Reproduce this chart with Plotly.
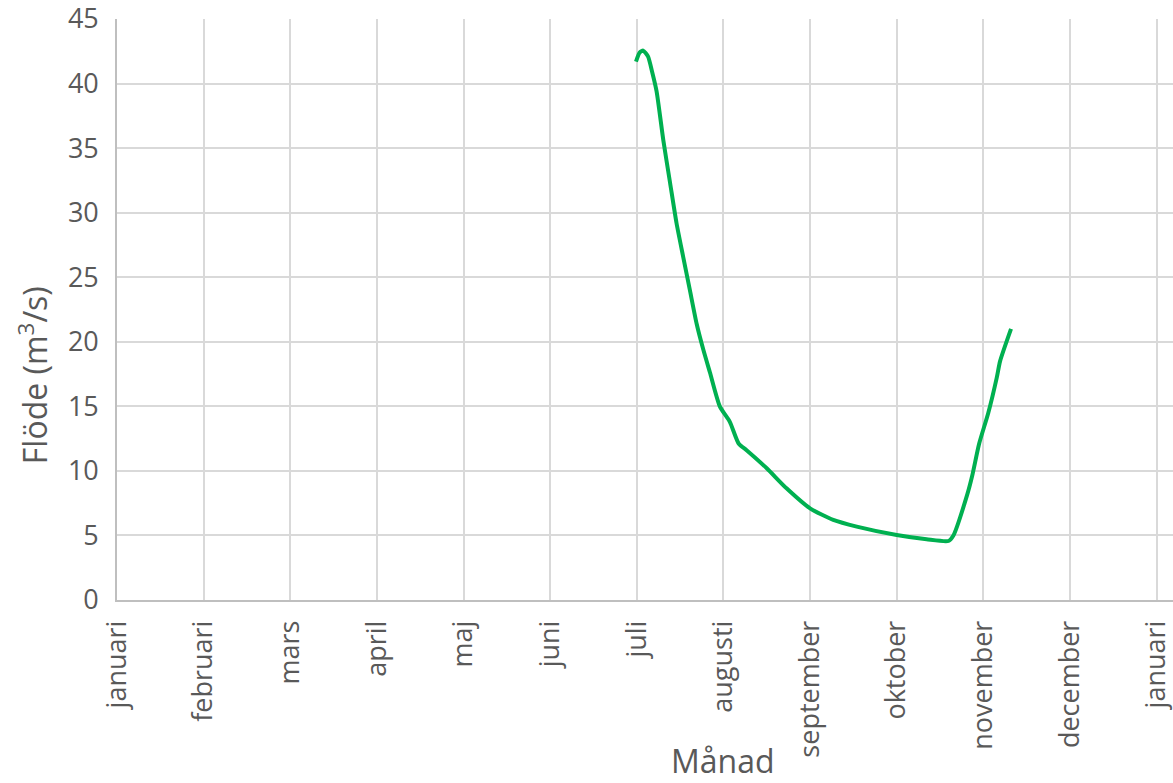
import plotly.graph_objects as go

# Flow measurements (date, m3/s)
dates = [
    "2019-07-05 17:00", "2019-07-07 00:00", "2019-07-08 07:00", "2019-07-10 00:00",
    "2019-07-11 12:00", "2019-07-13 02:00", "2019-07-15 12:00", "2019-07-17 22:00",
    "2019-07-20 05:00", "2019-07-22 14:00", "2019-07-25 00:00", "2019-07-27 10:00",
    "2019-07-29 19:00", "2019-08-01 05:00", "2019-08-04 17:00", "2019-08-08 07:00",
    "2019-08-11 12:00", "2019-08-14 07:00", "2019-08-21 12:00", "2019-08-28 14:00",
    "2019-09-06 00:00", "2019-09-14 07:00", "2019-09-22 17:00", "2019-10-07 00:00",
    "2019-10-17 17:00", "2019-10-25 12:00", "2019-10-27 07:00", "2019-11-01 07:00",
    "2019-11-03 00:00", "2019-11-05 12:00", "2019-11-08 19:00", "2019-11-11 19:00",
    "2019-11-13 00:00", "2019-11-16 22:00",
]
flow = [
    41.7, 42.4, 42.55, 42.1,
    40.9, 39.4, 35.6, 32.3,
    29.2, 26.6, 24.0, 21.4,
    19.4, 17.6, 15.0, 13.8,
    12.1, 11.6, 10.2, 8.65,
    7.1, 6.2, 5.68, 5.03,
    4.70, 4.57, 5.0, 8.2,
    9.6, 12.1, 14.5, 17.2,
    18.5, 21.0,
]

# Month ticks every 31 days from 1 January
tick_dates = [
    "2019-01-01", "2019-02-01", "2019-03-04", "2019-04-04", "2019-05-05",
    "2019-06-05", "2019-07-06", "2019-08-06", "2019-09-06", "2019-10-07",
    "2019-11-07", "2019-12-08", "2020-01-08",
]
tick_labels = [
    "januari", "februari", "mars", "april", "maj", "juni", "juli",
    "augusti", "september", "oktober", "november", "december", "januari",
]
y_ticks = [0, 5, 10, 15, 20, 25, 30, 35, 40, 45]

FONT = "Open Sans"
TXT = "#595959"
GRID = "#d9d9d9"

fig = go.Figure()
fig.add_trace(go.Scatter(
    x=dates, y=flow, mode="lines",
    line=dict(color="#00B050", width=4, shape="spline", smoothing=0.6),
    showlegend=False, hoverinfo="x+y",
))

fig.update_layout(
    width=1173, height=783,
    margin=dict(l=117, r=0, t=19, b=183),
    paper_bgcolor="white", plot_bgcolor="white",
    font=dict(family=FONT, color=TXT, size=27),
    xaxis=dict(
        type="date",
        range=["2019-01-01", "2020-01-13 21:00"],
        tickmode="array", tickvals=tick_dates, ticktext=tick_labels,
        tickangle=-90, ticks="", ticklabelstandoff=8,
        ticklabeloverflow="allow",
        showgrid=True, gridcolor=GRID, gridwidth=1.6,
        showline=True, linecolor="#bfbfbf", linewidth=1.6,
        zeroline=False, tickfont=dict(size=27, color=TXT, family=FONT),
    ),
    yaxis=dict(
        range=[0, 45], tickmode="array", tickvals=y_ticks,
        ticks="", ticklabelstandoff=11,
        ticklabeloverflow="allow",
        showgrid=True, gridcolor=GRID, gridwidth=1.6,
        showline=True, linecolor="#bfbfbf", linewidth=1.6,
        zeroline=False, tickfont=dict(size=27, color=TXT, family=FONT),
    ),
    annotations=[
        dict(text="Flöde (m<sup>3</sup>/s)", xref="paper", yref="paper",
             x=-0.0795, y=0.387, xanchor="center", yanchor="middle",
             textangle=-90, showarrow=False,
             font=dict(size=32, color=TXT, family=FONT)),
        dict(text="Månad", xref="paper", yref="paper",
             x=0.574, y=-0.277, xanchor="center", yanchor="middle",
             showarrow=False, font=dict(size=32, color=TXT, family=FONT)),
    ],
)

fig.write_html("out.html")
